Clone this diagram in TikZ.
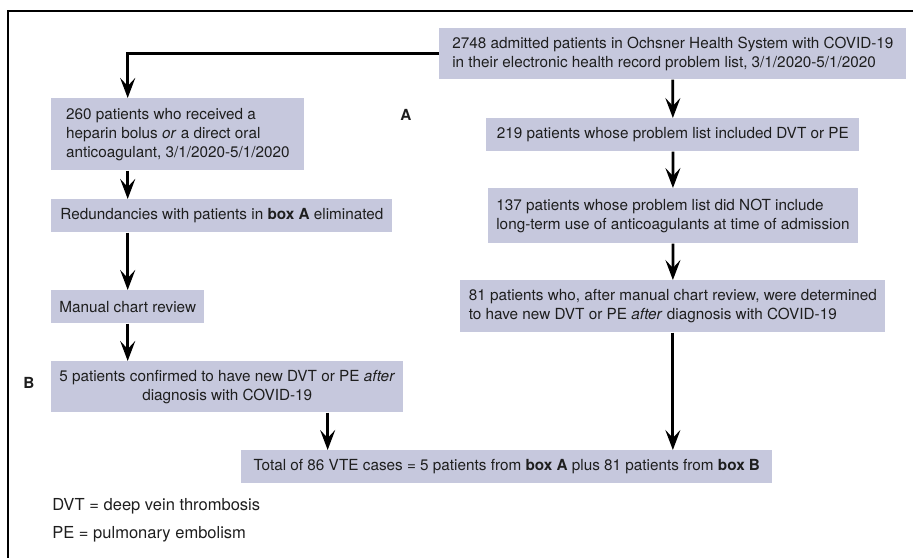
\documentclass[tikz,border=0pt]{standalone}
\usepackage{fontspec}
\setmainfont{TeX Gyre Heros}
\usepackage{tikz}
\usetikzlibrary{arrows.meta,calc}
\definecolor{boxfill}{RGB}{198,200,221}
\definecolor{inkgray}{RGB}{30,30,30}
\tikzset{
  flowbox/.style={fill=boxfill, anchor=north west, inner xsep=1.6mm, inner ysep=0pt,
    align=left, text=inkgray, font=\fontsize{8.7}{10.8}\selectfont},
  flow/.style={line width=0.55mm, -{Stealth[length=4mm,width=3mm,inset=1.6mm]}},
  tag/.style={font=\fontsize{8.7}{10.8}\selectfont\bfseries, text=inkgray},
  legend/.style={anchor=west, inner sep=0pt, text=inkgray, font=\fontsize{9.4}{10.8}\selectfont}
}

\begin{document}
\begin{tikzpicture}[x=0.2mm, y=-0.2mm]
    \useasboundingbox (0,0) rectangle (913,558);

    % draw frame
    \draw[line width=0.5mm] (913,11) -- (8,11) -- (8,558);

    % draw right column (box A)
    \node[flowbox, minimum width=93.4mm, minimum height=10.2mm] (top) at (439,28)
        {2748 admitted patients in Ochsner Health System with COVID-19\\in their electronic health record problem list, 3/1/2020-5/1/2020};
    \node[flowbox, minimum width=74.6mm, minimum height=6.6mm] (b219) at (486,118)
        {219 patients whose problem list included DVT or PE};
    \node[flowbox, minimum width=73.8mm, minimum height=11mm] (b137) at (488,188)
        {137 patients whose problem list did NOT include\\long-term use of anticoagulants at time of admission};
    \node[flowbox, minimum width=85mm, minimum height=10.4mm] (b81) at (460,280)
        {81 patients who, after manual chart review, were determined\\to have new DVT or PE \textit{after} diagnosis with COVID-19};

    % draw left column (box B)
    \node[flowbox, minimum width=50.6mm, minimum height=14.4mm] (b260) at (51,98)
        {260 patients who received a\\heparin bolus \textit{or} a direct oral\\anticoagulant, 3/1/2020-5/1/2020};
    \node[flowbox, minimum width=68.2mm, minimum height=6.6mm] (bred) at (51,199)
        {Redundancies with patients in \textbf{box A} eliminated};
    \node[flowbox, minimum width=30.2mm, minimum height=6.6mm] (bman) at (51,290)
        {Manual chart review};
    \node[flowbox, minimum width=70.2mm, minimum height=10.2mm, align=center] (b5) at (51,361)
        {5 patients confirmed to have new DVT or PE \textit{after}\\diagnosis with COVID-19};

    % draw total
    \node[flowbox, minimum width=106.2mm, minimum height=6.6mm, align=center] (total) at (241,450)
        {Total of 86 VTE cases = 5 patients from \textbf{box A} plus 81 patients from \textbf{box B}};
    \coordinate (join5) at ($(total.north west)!0.163!(total.north east)$);

    % draw labels
    \node[tag] (labA) at (406,115) {A};
    \node[tag] (labB) at (29,383) {B};
    \node[legend] (dvt) at (52,506) {DVT = deep vein thrombosis};
    \node[legend] (pe) at (52,534) {PE = pulmonary embolism};

    % draw arrows
    \draw[flow] (top.west) -| (bman.north |- b260.north);
    \draw[flow] (top) -- (b219);
    \draw[flow] (b219) -- (b137);
    \draw[flow] (b137) -- (b81);
    \draw[flow] (b81.south) -- (b81.south |- total.north);
    \draw[flow] (bman.north |- b260.south) -- (bman.north |- bred.north);
    \draw[flow] (bman.north |- bred.south) -- (bman.north);
    \draw[flow] (bman.south) -- (bman.south |- b5.north);
    \draw[flow] (join5 |- b5.south) -- (join5);
\end{tikzpicture}
\end{document}
